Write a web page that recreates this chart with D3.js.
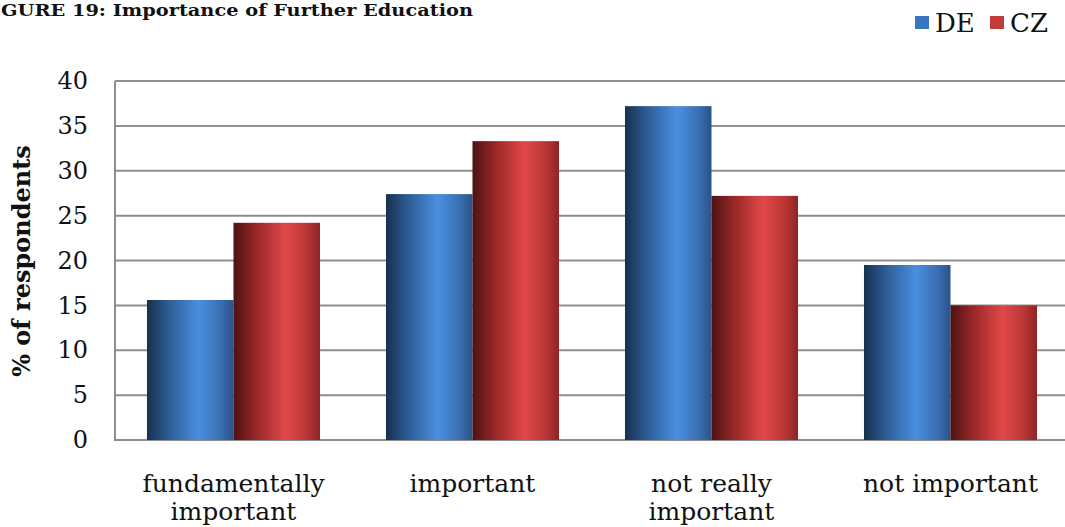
<!DOCTYPE html>
<html><head><meta charset="utf-8">
<script src="https://cdn.jsdelivr.net/npm/d3@7"></script>
<style>body{margin:0;background:#fff}svg{display:block}</style>
</head><body>
<svg id="c" width="1065" height="527"></svg>
<script>
const categories = [["fundamentally","important"],["important"],["not really","important"],["not important"]];
const categoryKeys = ["fundamentally important","important","not really important","not important"];
const seriesNames = ["DE","CZ"];
const valuesDE = [15.6, 27.4, 37.2, 19.5];
const valuesCZ = [24.2, 33.3, 27.2, 15.0];
const yTicks = [0,5,10,15,20,25,30,35,40];
const titleText = "GURE 19: Importance of Further Education";
const yTitle = "% of respondents";

const svg = d3.select("#c");
const serif = "'DejaVu Serif', 'Liberation Serif', serif";
const defs = svg.append("defs");
function grad(id, stops){
  const g = defs.append("linearGradient").attr("id", id).attr("x1","0").attr("x2","1").attr("y1","0").attr("y2","0");
  stops.forEach(s => g.append("stop").attr("offset", s[0]).attr("stop-color", s[1]));
}
grad("gDE", [[0,"#17304f"],[0.25,"#2d5c94"],[0.6,"#4a8fe0"],[0.85,"#3a6fb2"],[1,"#2b5288"]]);
grad("gCZ", [[0,"#4d1212"],[0.25,"#962626"],[0.6,"#e24848"],[0.85,"#b83636"],[1,"#8f2424"]]);
const fills = {DE:"url(#gDE)", CZ:"url(#gCZ)"};
const legendColors = {DE:"#3a75c4", CZ:"#c23a3a"};

const x0 = d3.scaleBand().domain(categoryKeys).range([114, 1070]).paddingInner(0.276).paddingOuter(0.138);
const x1 = d3.scaleBand().domain(seriesNames).range([0, x0.bandwidth()]).padding(0);
const y = d3.scaleLinear().domain([0, 40]).range([440, 81]);

// gridlines
svg.append("g").selectAll("line").data(yTicks).join("line")
  .attr("x1", 115).attr("x2", 1065)
  .attr("y1", d => y(d)).attr("y2", d => y(d))
  .attr("stroke", "#8e8e8e").attr("stroke-width", 2);
// y axis line
svg.append("line").attr("x1",115).attr("x2",115).attr("y1",y(40)).attr("y2",y(0)+1)
  .attr("stroke","#8e8e8e").attr("stroke-width",2);

// y tick labels
const yAxis = d3.axisLeft(y).tickValues(yTicks).tickSize(0).tickPadding(27);
const ya = svg.append("g").attr("transform","translate(115,0)").call(yAxis);
ya.select(".domain").remove();
ya.selectAll("text").attr("font-family", serif).attr("font-size", 24).attr("fill","#111");

// bars
const data = categoryKeys.map((k,i)=>({key:k, vals:[{s:"DE",v:valuesDE[i]},{s:"CZ",v:valuesCZ[i]}]}));
const grp = svg.append("g").selectAll("g").data(data).join("g")
  .attr("transform", d => `translate(${x0(d.key)},0)`);
grp.selectAll("rect").data(d => d.vals).join("rect")
  .attr("x", d => x1(d.s)).attr("width", x1.bandwidth())
  .attr("y", d => y(d.v)).attr("height", d => y(0) - y(d.v))
  .attr("fill", d => fills[d.s]);

// x labels
const xl = svg.append("g");
categoryKeys.forEach((k,i)=>{
  const cx = x0(k) + x0.bandwidth()/2;
  const t = xl.append("text").attr("x", cx).attr("y", 492)
    .attr("text-anchor","middle").attr("font-family", serif).attr("font-size", 25).attr("fill","#111");
  categories[i].forEach((line,j)=>{
    t.append("tspan").attr("x", cx).attr("dy", j===0?0:28).text(line);
  });
});

// y title
svg.append("text").attr("transform","translate(30,261) rotate(-90)")
  .attr("text-anchor","middle").attr("font-family", serif).attr("font-weight","bold")
  .attr("font-size", 24).attr("fill","#111").text(yTitle);

// title
svg.append("text").attr("x", 1).attr("y", 16)
  .attr("font-family", serif).attr("font-weight","bold").attr("font-size", 16).attr("fill","#111")
  .attr("textLength", 472).attr("lengthAdjust", "spacingAndGlyphs")
  .text(titleText);

// legend
const lg = svg.append("g");
const legendPos = [{s:"DE", x:915},{s:"CZ", x:990}];
legendPos.forEach(p=>{
  lg.append("rect").attr("x", p.x).attr("y", 16).attr("width", 14).attr("height", 13).attr("fill", legendColors[p.s]);
  lg.append("text").attr("x", p.x+20).attr("y", 32).attr("font-family", serif).attr("font-size", 26)
    .attr("fill","#111").text(p.s);
});
</script>
</body></html>
